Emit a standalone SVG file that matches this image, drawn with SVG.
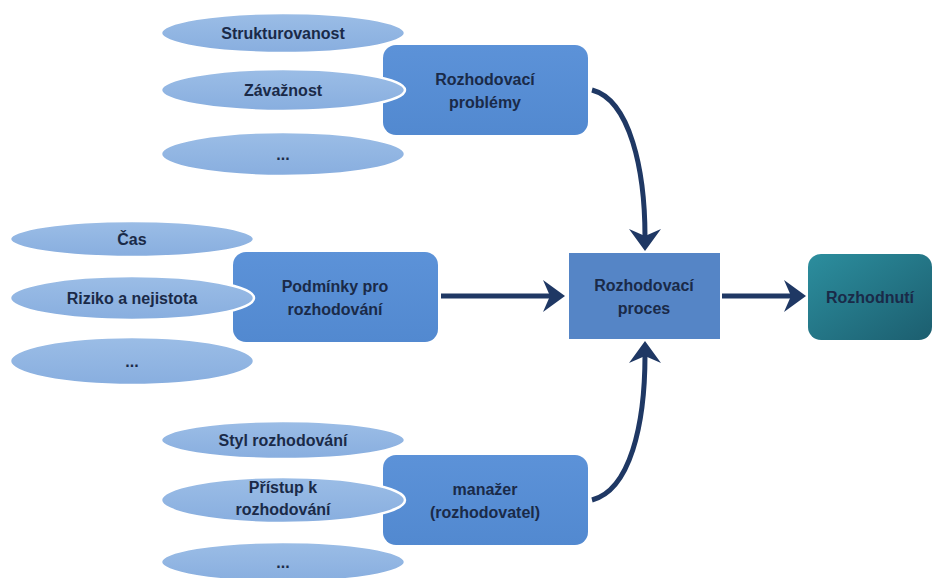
<svg xmlns="http://www.w3.org/2000/svg" width="936" height="578" viewBox="0 0 936 578">
<defs>
<linearGradient id="ell" x1="0" y1="0" x2="0" y2="1">
<stop offset="0" stop-color="#9BBDE6"/>
<stop offset="1" stop-color="#88AEDF"/>
</linearGradient>
<linearGradient id="box" x1="0" y1="0" x2="0" y2="1">
<stop offset="0" stop-color="#5C92D8"/>
<stop offset="1" stop-color="#5289D0"/>
</linearGradient>
<linearGradient id="teal" x1="0" y1="0" x2="1" y2="1">
<stop offset="0" stop-color="#2C8E9E"/>
<stop offset="1" stop-color="#1C5E6F"/>
</linearGradient>
<marker id="ah" markerUnits="userSpaceOnUse" viewBox="0 -16 22 32" markerWidth="22" markerHeight="32" refX="8" refY="0" orient="auto">
<path d="M0,-16 L22,0 L0,16 L7,0 Z" fill="#1F3864"/>
</marker>
</defs>
<style>
.ell{fill:url(#ell);stroke:#fff;stroke-width:2.5}
.box{fill:url(#box)}
.t{font-family:"Liberation Sans",Arial,sans-serif;font-weight:bold;font-size:16px;fill:#1A2A48;text-anchor:middle}
.c{fill:none;stroke:#1F3864;stroke-width:5;marker-end:url(#ah)}
</style>
<rect width="936" height="578" fill="#fff"/>

<g id="n-problemy">
<rect class="box" x="383" y="45" width="205" height="90" rx="13"/>
<text class="t" x="485" y="85">Rozhodovací</text>
<text class="t" x="485" y="108">problémy</text>
</g>
<g id="n-strukturovanost">
<ellipse class="ell" cx="283" cy="33" rx="122" ry="20"/>
<text class="t" x="283" y="39">Strukturovanost</text>
</g>
<g id="n-zavaznost">
<ellipse class="ell" cx="283" cy="90" rx="122" ry="21"/>
<text class="t" x="283" y="96">Závažnost</text>
</g>
<g id="n-dots1">
<ellipse class="ell" cx="283" cy="154" rx="122" ry="22"/>
<text class="t" x="283" y="160">...</text>
</g>

<g id="n-podminky">
<rect class="box" x="233" y="252" width="205" height="90" rx="13"/>
<text class="t" x="335" y="292">Podmínky pro</text>
<text class="t" x="335" y="315">rozhodování</text>
</g>
<g id="n-cas">
<ellipse class="ell" cx="132" cy="239" rx="122" ry="18"/>
<text class="t" x="132" y="245">Čas</text>
</g>
<g id="n-riziko">
<ellipse class="ell" cx="132" cy="298" rx="122" ry="22"/>
<text class="t" x="132" y="304">Riziko a nejistota</text>
</g>
<g id="n-dots2">
<ellipse class="ell" cx="132" cy="361" rx="122" ry="24"/>
<text class="t" x="132" y="367">...</text>
</g>

<g id="n-manazer">
<rect class="box" x="383" y="455" width="205" height="90" rx="13"/>
<text class="t" x="485" y="495">manažer</text>
<text class="t" x="485" y="518">(rozhodovatel)</text>
</g>
<g id="n-styl">
<ellipse class="ell" cx="283" cy="440" rx="122" ry="19"/>
<text class="t" x="283" y="446">Styl rozhodování</text>
</g>
<g id="n-pristup">
<ellipse class="ell" cx="283" cy="500" rx="122" ry="23"/>
<text class="t" x="283" y="493">Přístup k</text>
<text class="t" x="283" y="515">rozhodování</text>
</g>
<g id="n-dots3">
<ellipse class="ell" cx="283" cy="562" rx="122" ry="20"/>
<text class="t" x="283" y="568">...</text>
</g>

<g id="n-proces">
<rect x="569" y="253" width="151" height="86" fill="#5585C6"/>
<text class="t" x="644" y="291">Rozhodovací</text>
<text class="t" x="644" y="314">proces</text>
</g>
<g id="n-rozhodnuti">
<rect x="808" y="254" width="124" height="86" rx="13" fill="url(#teal)"/>
<text class="t" x="870" y="303">Rozhodnutí</text>
</g>

<g id="connectors">
<path class="c" d="M592,90 C630,100 645,170 645,237"/>
<path class="c" d="M592,500 C630,490 645,425 645,355"/>
<path class="c" d="M441,296 L551,296"/>
<path class="c" d="M722,296 L792,296"/>
</g>
</svg>
